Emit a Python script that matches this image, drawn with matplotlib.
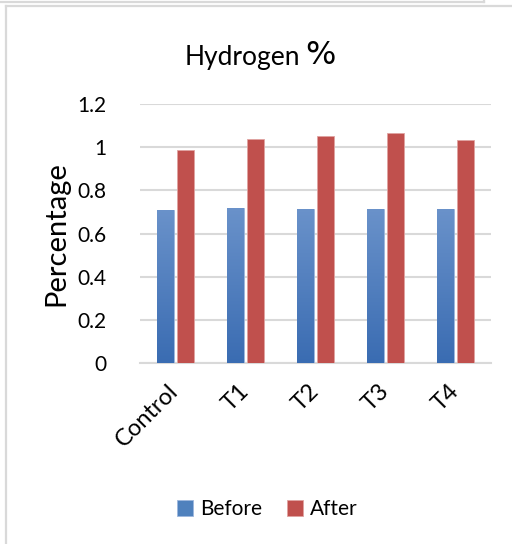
import numpy as np
import matplotlib
matplotlib.use('Agg')
import matplotlib.pyplot as plt
from matplotlib.lines import Line2D
from matplotlib.colors import LinearSegmentedColormap

# Données
categories = ['Control', 'T1', 'T2', 'T3', 'T4']
before = [0.71, 0.72, 0.715, 0.715, 0.715]
after = [0.985, 1.04, 1.05, 1.065, 1.035]
y_ticks = [0, 0.2, 0.4, 0.6, 0.8, 1, 1.2]
y_tick_labels = ['0', '0.2', '0.4', '0.6', '0.8', '1', '1.2']

plt.rcParams['font.family'] = ['Lato', 'DejaVu Sans']

W, H = 512, 544
fig = plt.figure(figsize=(W / 100, H / 100), dpi=100)
ax = fig.add_axes([140 / W, 1 - 363 / H, 351 / W, 259 / H])

x = np.arange(len(categories))
bw = 0.24
gap = 0.045

blue_cmap = LinearSegmentedColormap.from_list('blue', ['#3a6cb2', '#6a92ca'])
bars_b = ax.bar(x - (bw + gap) / 2, before, bw, color='#4f81bd', edgecolor='#9db7dd', linewidth=0.6, zorder=3)
bars_a = ax.bar(x + (bw + gap) / 2, after, bw, color='#c0504d', edgecolor='#e0a3a1', linewidth=0.6, zorder=3)

# Dégradé sur les barres bleues
grad = np.linspace(0, 1, 256).reshape(-1, 1)
for b in bars_b:
    x0 = b.get_x()
    im = ax.imshow(grad, extent=[x0, x0 + b.get_width(), 0, b.get_height()],
                   origin='lower', aspect='auto', cmap=blue_cmap, zorder=3.5)
    im.set_clip_path(b)

ax.set_xlim(-0.5, len(categories) - 0.5)
ax.set_ylim(0, 1.2)
ax.set_yticks(y_ticks)
ax.set_yticklabels(y_tick_labels, fontsize=15)
ax.set_xticks(x)
ax.set_xticklabels(categories, fontsize=17, rotation=45, ha='right', va='center',
                   rotation_mode='anchor')
ax.tick_params(axis='both', length=0, colors='black')
ax.tick_params(axis='y', pad=24)
ax.tick_params(axis='x', pad=18)

ax.grid(axis='y', color='#d9d9d9', linewidth=1.5, zorder=0)
for s in ['top', 'right', 'left']:
    ax.spines[s].set_visible(False)
ax.spines['bottom'].set_color('#d9d9d9')
ax.spines['bottom'].set_linewidth(1.5)

ax.set_ylabel('Percentage', fontsize=21, labelpad=6)

# Titre : le signe % est plus grand dans l'original
fig.text(300 / W, 1 - 57 / H, 'Hydrogen', fontsize=19, ha='right', va='center')
fig.text(305 / W, 1 - 56 / H, '%', fontsize=23, ha='left', va='center', family='DejaVu Sans')

ax.legend([bars_b, bars_a], ['Before', 'After'], loc='center', ncol=2,
          bbox_to_anchor=(267 / W, 1 - 509 / H), bbox_transform=fig.transFigure,
          frameon=False, fontsize=15, handlelength=0.8, handleheight=0.8,
          handletextpad=0.3, columnspacing=1.2)

# Cadres
c = '#d9d9d9'
fig.add_artist(Line2D([5.5 / W, 5.5 / W], [0, 1 - 5.5 / H], color=c, linewidth=1.6, transform=fig.transFigure))
fig.add_artist(Line2D([5.5 / W, 1], [1 - 5.5 / H, 1 - 5.5 / H], color=c, linewidth=1.6, transform=fig.transFigure))
fig.add_artist(Line2D([0, 484 / W], [1 - 2 / H, 1 - 2 / H], color=c, linewidth=1.6, transform=fig.transFigure))
fig.add_artist(Line2D([484 / W, 484 / W], [1 - 2 / H, 1], color=c, linewidth=1.6, transform=fig.transFigure))

fig.savefig('out.png', dpi=100)
